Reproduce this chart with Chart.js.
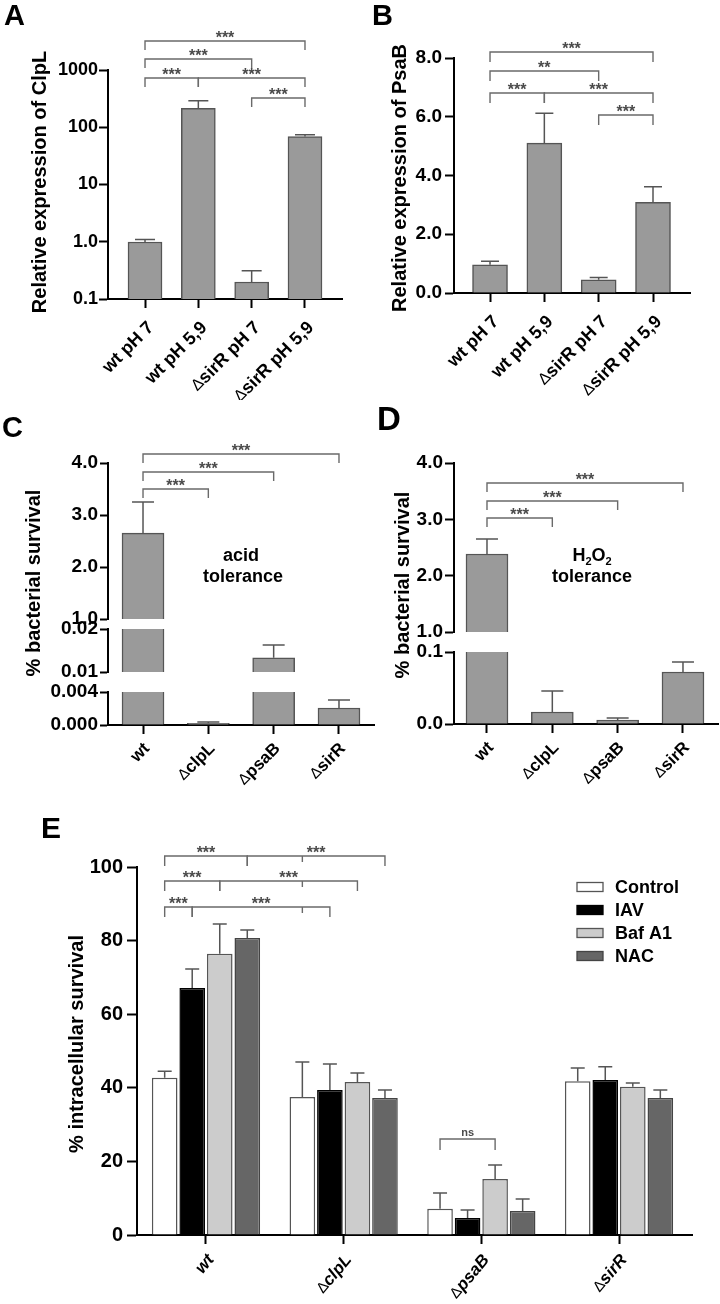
<!DOCTYPE html>
<html>
<head>
<meta charset="utf-8">
<script src="https://cdn.jsdelivr.net/npm/chart.js@4.4.1/dist/chart.umd.min.js"></script>
<style>
  html, body { margin: 0; padding: 0; background: #fff; }
  #fig { position: relative; width: 720px; height: 1304px; overflow: hidden; background: #fff; }
  #fig canvas { position: absolute; }
</style>
</head>
<body>
<div id="fig"></div>
<script>
// ---------- data ----------
// A: ClpL expression (log)
const exprLabels = ['wt pH 7', 'wt pH 5,9', 'ΔsirR pH 7', 'ΔsirR pH 5,9'];
const clplMean = [0.99, 215, 0.198, 68.6];
const clplErr = [1.10, 291, 0.31, 74];
const clplTicks = [0.1, 1, 10, 100, 1000];
const clplTickText = ['0.1', '1.0', '10', '100', '1000'];

// B: PsaB expression
const psabMean = [0.96, 5.10, 0.45, 3.09];
const psabErr = [1.08, 6.12, 0.53, 3.62];
const psabTicks = [0, 2, 4, 6, 8];

// C: acid tolerance (broken axis)
const strainLabels = ['wt', 'ΔclpL', 'ΔpsaB', 'ΔsirR'];
const acidMean = [2.65, 0.0002, 0.0133, 0.00206];
const acidErr = [3.25, 0.00036, 0.0163, 0.00303];
const acidTicksHigh = [1, 2, 3, 4];
const acidTicksMid = [0.01, 0.02];
const acidTicksLow = [0, 0.004];

// D: H2O2 tolerance (broken axis)
const h2o2Mean = [2.385, 0.0167, 0.0056, 0.0722];
const h2o2Err = [2.65, 0.0458, 0.0083, 0.0861];
const h2o2TicksHigh = [1, 2, 3, 4];
const h2o2TicksLow = [0, 0.1];

// E: intracellular survival
const treatments = ['Control', 'IAV', 'Baf A1', 'NAC'];
const controlMean = [42.7, 37.5, 7.1, 41.8];
const controlErr = [44.5, 47.0, 11.4, 45.4];
const iavMean = [67.1, 39.4, 4.6, 42.1];
const iavErr = [72.3, 46.5, 6.8, 45.7];
const bafMean = [76.4, 41.6, 15.2, 40.3];
const bafErr = [84.5, 44.0, 19.0, 41.3];
const nacMean = [80.7, 37.2, 6.5, 37.2];
const nacErr = [82.9, 39.4, 9.8, 39.4];
const survivalTicks = [0, 20, 40, 60, 80, 100];

// ---------- helpers ----------
const FONT = 'Arial, "Liberation Sans", Helvetica, sans-serif';
Chart.defaults.font.family = FONT;

function addCanvas(box) {
  const [l, t, w, h] = box;
  const c = document.createElement('canvas');
  c.width = w; c.height = h;
  c.style.left = l + 'px'; c.style.top = t + 'px';
  c.style.width = w + 'px'; c.style.height = h + 'px';
  document.getElementById('fig').appendChild(c);
  return c;
}

const toXY = arr => arr.map((v, i) => ({ x: i, y: v }));

function yAxis(type, min, max, ticks, fmt, size, tickLen, pad) {
  return {
    type, min, max,
    afterBuildTicks: s => { s.ticks = ticks.map(v => ({ value: v })); },
    ticks: { callback: fmt, autoSkip: false, color: '#000', padding: pad, font: { size, weight: 'bold' } },
    grid: { drawOnChartArea: false, drawTicks: true, tickLength: tickLen, tickWidth: 2, tickColor: '#000' },
    border: { color: '#000', width: 2 }
  };
}

function barPanel(cfg) {
  const [L, T, W, H] = cfg.box;
  const [al, at, ar, ab] = cfg.area;
  const y = cfg.y;
  y.afterFit = s => { s.width = al - L; s.paddingTop = 0; s.paddingBottom = 0; };
  return new Chart(addCanvas(cfg.box), {
    type: 'bar',
    data: { datasets: cfg.datasets },
    options: {
      responsive: false, animation: false, devicePixelRatio: 1,
      layout: { autoPadding: false, padding: { left: 0, top: at - T, right: L + W - ar, bottom: cfg.showX ? 0 : T + H - ab } },
      plugins: { legend: { display: false }, tooltip: { enabled: false } },
      scales: {
        x: {
          type: 'linear', min: cfg.xRange[0], max: cfg.xRange[1], display: cfg.showX, offset: false,
          afterBuildTicks: s => { s.ticks = [0, 1, 2, 3].map(v => ({ value: v })); },
          afterFit: s => {
            if (cfg.showX) s.height = T + H - ab;
            s.paddingLeft = 0; s.paddingRight = 0;
          },
          ticks: { display: false },
          grid: { offset: false, drawOnChartArea: false, drawTicks: true, tickLength: cfg.xTickLen || 9, tickWidth: 2, tickColor: '#000' },
          border: { color: '#000', width: 2 }
        },
        y
      }
    },
    plugins: cfg.plugins || []
  });
}

function greyBars(values, thickness) {
  return [{ data: toXY(values), backgroundColor: '#9a9a9a', borderColor: '#555', borderWidth: 1.5,
    barThickness: thickness, borderSkipped: 'start', clip: 0 }];
}

function errorBars(errSets, capW) {
  return {
    id: 'errbars',
    afterDatasetsDraw(chart) {
      const ys = chart.scales.y, ctx = chart.ctx;
      ctx.save();
      ctx.strokeStyle = '#555'; ctx.lineWidth = 1.5;
      errSets.forEach((errs, d) => {
        chart.getDatasetMeta(d).data.forEach((bar, i) => {
          const v = chart.data.datasets[d].data[i].y;
          if (v < ys.min || v > ys.max) return;
          const top = ys.getPixelForValue(errs[i]);
          ctx.beginPath();
          ctx.moveTo(bar.x, bar.y); ctx.lineTo(bar.x, top);
          ctx.moveTo(bar.x - capW / 2, top); ctx.lineTo(bar.x + capW / 2, top);
          ctx.stroke();
        });
      });
      ctx.restore();
    }
  };
}

function drawRotLabel(ctx, text, x, y, deg, size, italic) {
  const parts = [];
  let rest = text;
  if (rest.startsWith('Δ')) { parts.push({ t: 'Δ', f: `normal ${Math.round(size * 0.9)}px ${FONT}` }); rest = rest.slice(1); }
  parts.push({ t: rest, f: `${italic ? 'italic ' : ''}bold ${size}px ${FONT}` });
  ctx.save();
  ctx.translate(x, y);
  ctx.rotate(-deg * Math.PI / 180);
  let total = 0;
  parts.forEach(p => { ctx.font = p.f; p.w = ctx.measureText(p.t).width; total += p.w; });
  let cx = -total;
  ctx.textAlign = 'left'; ctx.textBaseline = 'middle'; ctx.fillStyle = '#000';
  parts.forEach(p => { ctx.font = p.f; ctx.fillText(p.t, cx, 0); cx += p.w; });
  ctx.restore();
}

function decor(spec) {
  return {
    id: 'decor',
    afterDraw(chart) {
      const ctx = chart.ctx;
      const [ox, oy] = spec.origin;
      const barX = (g, d = 0) => chart.getDatasetMeta(d).data[g].x + ox;
      ctx.save();
      ctx.translate(-ox, -oy);
      ctx.fillStyle = '#000';
      // panel letter
      if (spec.letter) {
        const [t, x, y, s] = spec.letter;
        ctx.font = `bold ${s}px ${FONT}`; ctx.textAlign = 'left'; ctx.textBaseline = 'alphabetic';
        ctx.fillText(t, x, y);
      }
      // y title
      if (spec.yTitle) {
        const [t, x, y, s] = spec.yTitle;
        ctx.save(); ctx.translate(x, y); ctx.rotate(-Math.PI / 2);
        ctx.font = `bold ${s}px ${FONT}`; ctx.textAlign = 'center'; ctx.textBaseline = 'alphabetic';
        ctx.fillText(t, 0, 0); ctx.restore();
      }
      // x labels
      if (spec.xLabels) {
        const { labels, deg, size, italic, dx, dy } = spec.xLabels;
        const axisY = chart.chartArea.bottom + oy;
        labels.forEach((lab, i) => {
          drawRotLabel(ctx, lab, chart.scales.x.getPixelForValue(i) + ox + dx, axisY + dy, deg, size, italic);
        });
      }
      // significance brackets
      (spec.brackets || []).forEach(b => {
        const xa = barX(...b.a), xb = barX(...b.b);
        const drop = b.drop || spec.drop || 9;
        ctx.strokeStyle = '#6a6a6a'; ctx.lineWidth = 1.4;
        ctx.beginPath();
        ctx.moveTo(xa, b.y + drop); ctx.lineTo(xa, b.y); ctx.lineTo(xb, b.y); ctx.lineTo(xb, b.y + drop);
        if (b.mid) { const xm = barX(...b.mid); ctx.moveTo(xm, b.y); ctx.lineTo(xm, b.y + 6); }
        ctx.stroke();
        ctx.fillStyle = '#4a4a4a';
        ctx.textAlign = 'center'; ctx.textBaseline = 'alphabetic';
        if (b.text === 'ns') { ctx.font = `bold 11px ${FONT}`; ctx.fillText('ns', (xa + xb) / 2, b.y - 3); }
        else { ctx.font = `bold 16px ${FONT}`; ctx.fillText(b.text, (xa + xb) / 2, b.y + 2); }
      });
      ctx.fillStyle = '#000';
      if (spec.after) spec.after(ctx, chart);
      ctx.restore();
    }
  };
}

// ---------- Panel A ----------
const bracketsA = [
  { a: [0], b: [3], y: 41, text: '***' },
  { a: [0], b: [2], y: 59, text: '***' },
  { a: [0], b: [1], y: 78, text: '***' },
  { a: [1], b: [3], y: 78, text: '***' },
  { a: [2], b: [3], y: 98, text: '***' }
];
barPanel({
  box: [0, 0, 360, 400], area: [108, 70, 342, 299], showX: true, xRange: [-0.694, 3.694],
  datasets: greyBars(clplMean, 34),
  y: yAxis('logarithmic', 0.1, 1000, clplTicks, (v, i) => clplTickText[i], 18, 9, 1),
  plugins: [errorBars([clplErr], 20), decor({
    origin: [0, 0], letter: ['A', 4, 25, 29],
    yTitle: ['Relative expression of ClpL', 46, 182, 20],
    xLabels: { labels: exprLabels, deg: 45, size: 18, italic: false, dx: 6, dy: 26 },
    brackets: bracketsA, drop: 9
  })]
});

// ---------- Panel B ----------
const bracketsB = [
  { a: [0], b: [3], y: 52, text: '***' },
  { a: [0], b: [2], y: 71, text: '**' },
  { a: [0], b: [1], y: 93, text: '***' },
  { a: [1], b: [3], y: 93, text: '***' },
  { a: [2], b: [3], y: 115, text: '***' }
];
barPanel({
  box: [360, 0, 360, 400], area: [454, 58, 690, 293], showX: true, xRange: [-0.663, 3.681],
  datasets: greyBars(psabMean, 35),
  y: yAxis('linear', 0, 8, psabTicks, v => v.toFixed(1), 19, 9, 3),
  plugins: [errorBars([psabErr], 18), decor({
    origin: [360, 0], letter: ['B', 372, 25, 29],
    yTitle: ['Relative expression of PsaB', 406, 178, 20],
    xLabels: { labels: exprLabels, deg: 45, size: 18, italic: false, dx: 6, dy: 26 },
    brackets: bracketsB, drop: 10
  })]
});

// ---------- Panel C (three axis segments) ----------
const C_BOX = [0, 395, 380, 410];
const C_RANGE = [-0.536, 3.536];
const bracketsC = [
  { a: [0], b: [3], y: 454, text: '***' },
  { a: [0], b: [2], y: 472, text: '***' },
  { a: [0], b: [1], y: 489, text: '***' }
];
barPanel({
  box: C_BOX, area: [108, 692, 374, 725], showX: true, xRange: C_RANGE,
  datasets: greyBars(acidMean, 42),
  y: yAxis('linear', 0, 0.004, acidTicksLow, v => v.toFixed(3), 19, 8, 2),
  plugins: [errorBars([acidErr], 22), decor({
    origin: [0, 395], letter: ['C', 2, 437, 29],
    yTitle: ['% bacterial survival', 40, 583, 20],
    xLabels: { labels: strainLabels, deg: 45, size: 17, italic: false, dx: 4, dy: 21 },
    brackets: bracketsC, drop: 9,
    after: ctx => {
      ctx.font = `bold 18px ${FONT}`; ctx.textAlign = 'center'; ctx.textBaseline = 'alphabetic';
      ctx.fillText('acid', 241, 561);
      ctx.fillText('tolerance', 243, 582);
    }
  })]
});
barPanel({
  box: C_BOX, area: [108, 629, 374, 672], showX: false, xRange: C_RANGE,
  datasets: greyBars(acidMean, 42),
  y: yAxis('linear', 0.01, 0.02, acidTicksMid, v => v.toFixed(2), 19, 8, 2),
  plugins: [errorBars([acidErr], 22)]
});
barPanel({
  box: C_BOX, area: [108, 463, 374, 619], showX: false, xRange: C_RANGE,
  datasets: greyBars(acidMean, 42),
  y: yAxis('linear', 1, 4, acidTicksHigh, v => v.toFixed(1), 19, 8, 2),
  plugins: [errorBars([acidErr], 22)]
});

// ---------- Panel D (two axis segments) ----------
const D_BOX = [360, 395, 360, 410];
const D_RANGE = [-0.505, 3.536];
const bracketsD = [
  { a: [0], b: [3], y: 483, text: '***' },
  { a: [0], b: [2], y: 501, text: '***' },
  { a: [0], b: [1], y: 518, text: '***' }
];
barPanel({
  box: D_BOX, area: [454, 652, 718, 724], showX: true, xRange: D_RANGE,
  datasets: greyBars(h2o2Mean, 42),
  y: yAxis('linear', 0, 0.1, h2o2TicksLow, v => v.toFixed(1), 19, 9, 2),
  plugins: [errorBars([h2o2Err], 22), decor({
    origin: [360, 395], letter: ['D', 377, 430, 33],
    yTitle: ['% bacterial survival', 409, 585, 20],
    xLabels: { labels: strainLabels, deg: 45, size: 17, italic: false, dx: 4, dy: 21 },
    brackets: bracketsD, drop: 9,
    after: ctx => {
      ctx.textBaseline = 'alphabetic'; ctx.textAlign = 'left';
      const big = `bold 18px ${FONT}`, small = `bold 11px ${FONT}`;
      const parts = [['H', big, 0], ['2', small, 4], ['O', big, 0], ['2', small, 4]];
      let w = 0;
      parts.forEach(p => { ctx.font = p[1]; w += ctx.measureText(p[0]).width; });
      let x = 592 - w / 2;
      parts.forEach(p => { ctx.font = p[1]; ctx.fillText(p[0], x, 561 + p[2]); x += ctx.measureText(p[0]).width; });
      ctx.font = big; ctx.textAlign = 'center';
      ctx.fillText('tolerance', 592, 582);
    }
  })]
});
barPanel({
  box: D_BOX, area: [454, 463, 718, 632], showX: false, xRange: D_RANGE,
  datasets: greyBars(h2o2Mean, 42),
  y: yAxis('linear', 1, 4, h2o2TicksHigh, v => v.toFixed(1), 19, 9, 2),
  plugins: [errorBars([h2o2Err], 22)]
});

// ---------- Panel E ----------
const eFill = ['#ffffff', '#000000', '#cccccc', '#666666'];
const eLine = ['#555555', '#000000', '#555555', '#444444'];
const eMeans = [controlMean, iavMean, bafMean, nacMean];
const eErrs = [controlErr, iavErr, bafErr, nacErr];
const bracketsE = [
  { a: [0, 0], b: [0, 3], y: 856, text: '***' },
  { a: [0, 3], b: [1, 3], y: 856, text: '***', mid: [1, 0] },
  { a: [0, 0], b: [0, 2], y: 881, text: '***' },
  { a: [0, 2], b: [1, 2], y: 881, text: '***', mid: [1, 0] },
  { a: [0, 0], b: [0, 1], y: 907, text: '***' },
  { a: [0, 1], b: [1, 1], y: 907, text: '***', mid: [1, 0] },
  { a: [2, 0], b: [2, 2], y: 1139, text: 'ns', drop: 11 }
];
barPanel({
  box: [0, 800, 720, 504], area: [137, 867, 692, 1235], showX: true, xRange: [-0.501, 3.530], xTickLen: 9,
  datasets: treatments.map((t, d) => ({
    label: t, data: toXY(eMeans[d]), backgroundColor: eFill[d], borderColor: eLine[d], borderWidth: 1.5,
    categoryPercentage: 0.8, barPercentage: 0.93, borderSkipped: 'start', clip: 0
  })),
  y: yAxis('linear', 0, 100, survivalTicks, v => String(v), 20, 10, 4),
  plugins: [errorBars(eErrs, 14), decor({
    origin: [0, 800], letter: ['E', 41, 838, 30],
    yTitle: ['% intracellular survival', 83, 1044, 20],
    xLabels: { labels: strainLabels, deg: 50, size: 17, italic: true, dx: 5, dy: 22 },
    brackets: bracketsE, drop: 10,
    after: (ctx, chart) => {
      ctx.textAlign = 'left'; ctx.textBaseline = 'middle';
      const rows = [887, 910, 933, 956];
      chart.data.datasets.forEach((ds, d) => {
        ctx.fillStyle = ds.backgroundColor; ctx.strokeStyle = ds.borderColor; ctx.lineWidth = 1.3;
        ctx.fillRect(577, rows[d] - 4.5, 26, 9); ctx.strokeRect(577, rows[d] - 4.5, 26, 9);
        ctx.fillStyle = '#000'; ctx.font = `bold 18px ${FONT}`;
        ctx.fillText(ds.label, 615, rows[d] + 1);
      });
    }
  })]
});
</script>
</body>
</html>
